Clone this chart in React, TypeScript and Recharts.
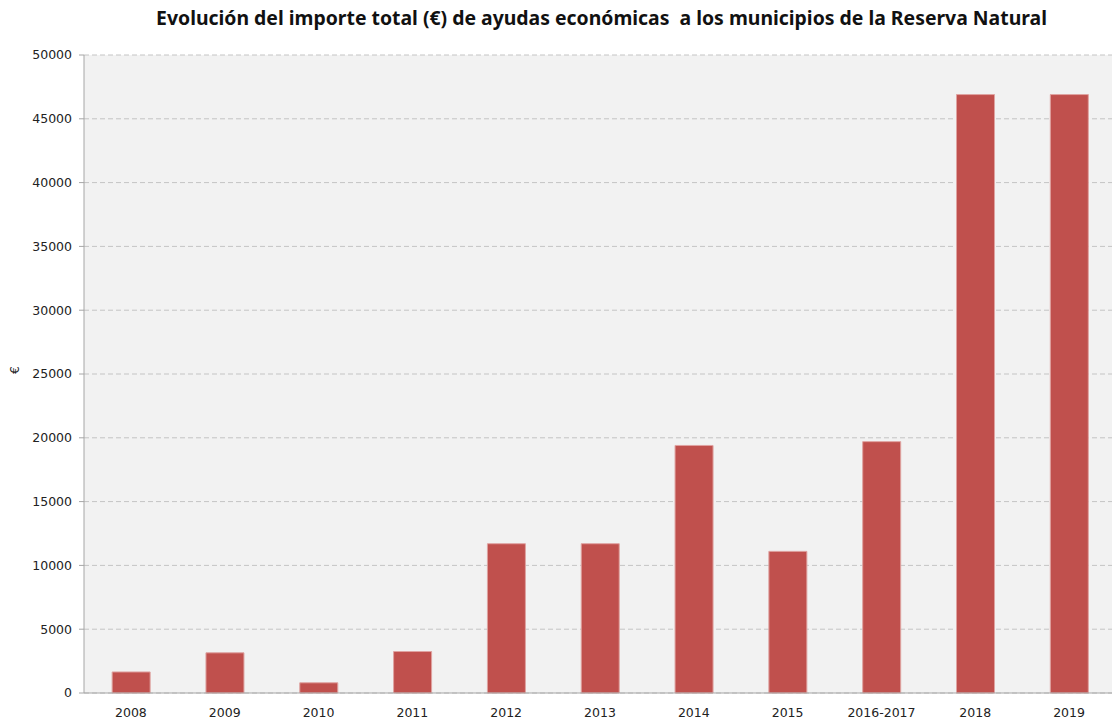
import { Bar, BarChart, CartesianGrid, XAxis, YAxis } from "recharts";

const years = ["2008", "2009", "2010", "2011", "2012", "2013", "2014", "2015", "2016-2017", "2018", "2019"];
const importes = [1650, 3150, 800, 3250, 11700, 11700, 19400, 11100, 19700, 46900, 46900];
const yTicks = [0, 5000, 10000, 15000, 20000, 25000, 30000, 35000, 40000, 45000, 50000];

const data = years.map((year, i) => ({ year, importe: importes[i] }));

const tickStyle = { fontFamily: "DejaVu Sans", fontSize: 12.5, fill: "#222" };

export default function App() {
  return (
    <div style={{ position: "absolute", left: 0, top: 0, width: 1112, height: 723, overflow: "hidden", background: "#fff" }}>
      <div
        style={{
          position: "absolute",
          top: 4,
          left: 0,
          width: 1203,
          textAlign: "center",
          fontFamily: "Noto Sans",
          fontWeight: 700,
          fontSize: 19.4,
          color: "#111",
          whiteSpace: "pre",
        }}
      >
        {"Evolución del importe total (€) de ayudas económicas  a los municipios de la Reserva Natural"}
      </div>
      <BarChart width={1120} height={723} data={data} margin={{ top: 55, right: 4, left: 0, bottom: 0 }} barCategoryGap="30%">
        <CartesianGrid vertical={false} strokeDasharray="5 3" stroke="#c4c4c4" fill="#f2f2f2" />
        <XAxis
          dataKey="year"
          tickLine={false}
          tickSize={0}
          tickMargin={15}
          axisLine={{ stroke: "#a6a6a6" }}
          tick={tickStyle}
          height={30}
          interval={0}
        />
        <YAxis
          domain={[0, 50000]}
          ticks={yTicks}
          width={84}
          tickSize={5}
          tickMargin={7}
          tickLine={{ stroke: "#a6a6a6" }}
          axisLine={{ stroke: "#a6a6a6" }}
          tick={tickStyle}
          label={{ value: "€", angle: -90, position: "insideLeft", offset: 15, style: tickStyle }}
        />
        <Bar dataKey="importe" fill="#c0504d" stroke="#dfa3a1" strokeWidth={1} isAnimationActive={false} />
      </BarChart>
    </div>
  );
}
